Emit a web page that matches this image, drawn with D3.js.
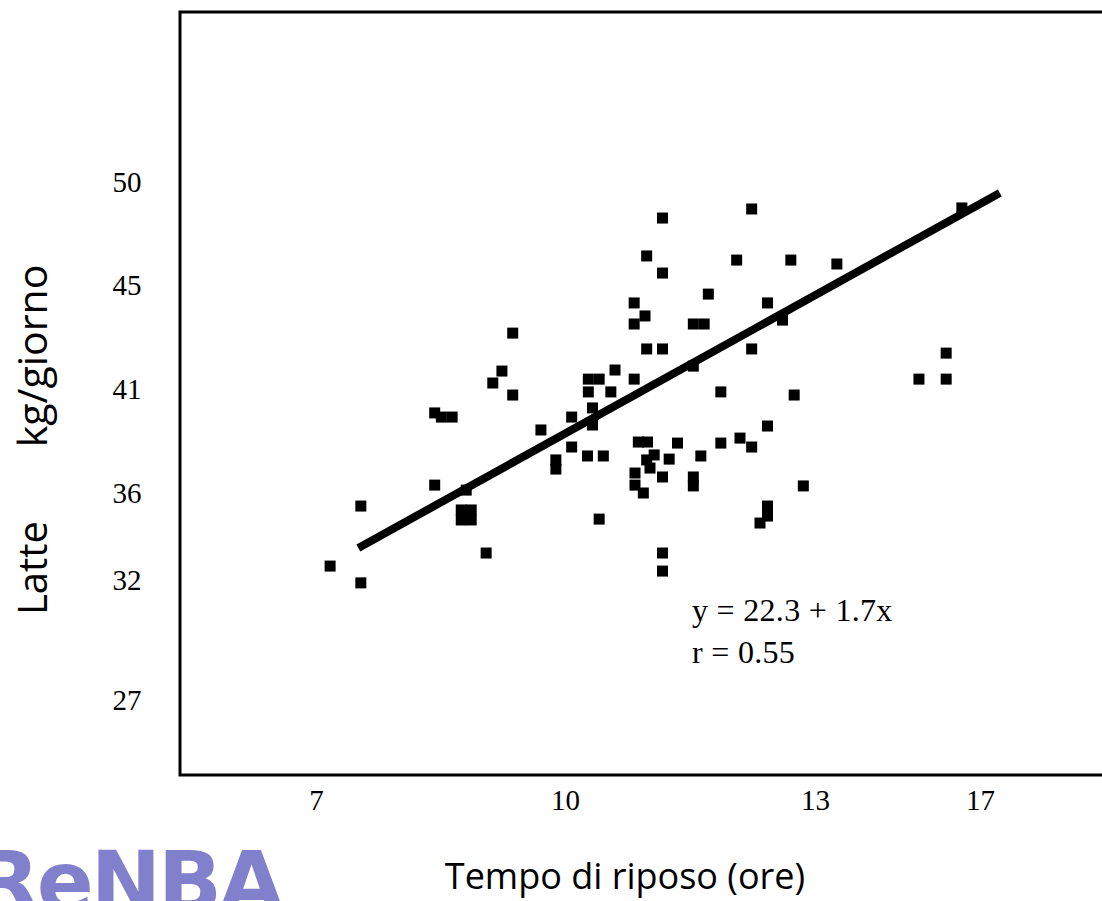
<!DOCTYPE html>
<html>
<head>
<meta charset="utf-8">
<script src="https://cdn.jsdelivr.net/npm/d3@7"></script>
<style>
  html, body { margin: 0; padding: 0; background: #fff; }
  svg { display: block; }
</style>
</head>
<body>
<svg id="chart" width="1102" height="901"></svg>
<script>
// ---- data ----
const restHours = [7.17,7.54,7.54,8.43,8.81,8.75,8.87,8.75,8.87,9.05,8.43,8.51,8.64,9.13,9.24,9.37,9.37,9.71,9.89,9.89,
  10.08,10.08,10.27,10.46,10.41,10.28,10.41,10.60,10.83,10.28,10.55,10.33,10.33,10.83,10.96,10.83,10.98,10.98,11.17,11.17,
  11.17,10.88,10.99,11.35,11.07,10.98,11.25,11.02,11.63,11.17,10.84,10.84,10.94,11.54,11.54,11.54,11.54,11.67,11.72,11.87,
  11.87,12.06,12.10,12.24,12.24,12.24,12.43,12.43,12.43,12.43,12.34,12.61,12.71,12.75,12.86,13.53,11.17,11.17,15.52,16.18,
  16.18,16.56];
const milkKg = [32.64,31.88,35.40,36.38,36.14,35.22,35.22,34.76,34.76,33.24,39.85,39.65,39.65,41.23,41.69,43.15,40.71,39.03,37.59,37.15,
  39.65,38.21,37.78,37.78,34.80,41.38,41.38,41.73,41.38,40.86,40.86,40.09,39.27,44.31,43.81,43.50,46.41,42.54,42.54,48.25,
  45.58,38.45,38.45,38.40,37.83,37.59,37.63,37.20,37.78,36.77,36.96,36.38,36.00,36.77,36.34,41.88,43.50,43.50,44.65,40.86,
  38.40,46.21,38.64,38.21,48.69,42.54,44.31,39.22,35.40,34.94,34.62,43.65,46.21,40.71,36.34,46.02,33.24,32.41,41.38,41.38,
  42.38,48.74];
const fitX = [7.51, 17.48];
const fitY = [33.47, 49.47];
const xTicks = [7, 10, 13, 17];
const yTicks = [27, 32, 36, 41, 45, 50];
const equationLines = ["y = 22.3 + 1.7x", "r = 0.55"];

// ---- layout ----
const svg = d3.select("#chart");
const frame = { left: 180, top: 12, right: 1112, bottom: 775 };

// axis positions follow the printed (irregular) tick spacing
const x = d3.scaleLinear().domain(xTicks).range([316, 565, 815, 980]);
const y = d3.scaleLinear().domain(yTicks).range([700, 580, 493, 389, 285, 182]);

// frame
svg.append("rect")
  .attr("x", frame.left).attr("y", frame.top)
  .attr("width", frame.right - frame.left).attr("height", frame.bottom - frame.top)
  .attr("fill", "none").attr("stroke", "#000").attr("stroke-width", 3);

// y tick labels
const yAxis = svg.append("g").attr("transform", "translate(127,0)")
  .call(d3.axisLeft(y).tickValues(yTicks).tickSize(0).tickPadding(0).tickFormat(d3.format("d")));
yAxis.select(".domain").remove();
yAxis.selectAll("text")
  .attr("text-anchor", "middle").attr("x", 0)
  .style("font-family", "'Liberation Serif', 'Times New Roman', serif")
  .style("font-size", "29px").attr("fill", "#000");

// x tick labels
const xAxis = svg.append("g").attr("transform", "translate(0,789)")
  .call(d3.axisBottom(x).tickValues(xTicks).tickSize(0).tickPadding(0).tickFormat(d3.format("d")));
xAxis.select(".domain").remove();
xAxis.selectAll("text")
  .style("font-family", "'Liberation Serif', 'Times New Roman', serif")
  .style("font-size", "29px").attr("fill", "#000");

// points
const pts = restHours.map((d, i) => ({ x: d, y: milkKg[i] }));
const S = 11;
svg.append("g").selectAll("rect").data(pts).join("rect")
  .attr("x", d => x(d.x) - S / 2).attr("y", d => y(d.y) - S / 2)
  .attr("width", S).attr("height", S).attr("fill", "#000");

// regression line
svg.append("line")
  .attr("x1", x(fitX[0])).attr("y1", y(fitY[0]))
  .attr("x2", x(fitX[1])).attr("y2", y(fitY[1]))
  .attr("stroke", "#000").attr("stroke-width", 8);

// equation
svg.append("g").selectAll("text").data(equationLines).join("text")
  .attr("x", 692).attr("y", (d, i) => 621 + i * 42)
  .style("font-family", "'Liberation Serif', 'Times New Roman', serif")
  .style("font-size", "32px").style("letter-spacing", "0.3px").attr("fill", "#000")
  .text(d => d);

// axis titles
svg.append("text")
  .attr("x", 625).attr("y", 889).attr("text-anchor", "middle")
  .style("font-family", "'Open Sans', sans-serif").style("font-size", "36px").attr("fill", "#000")
  .text("Tempo di riposo (ore)");

svg.append("text")
  .attr("transform", "translate(47,568) rotate(-90)").attr("text-anchor", "middle")
  .style("font-family", "'Open Sans', sans-serif").style("font-size", "40px").attr("fill", "#000")
  .text("Latte");
svg.append("text")
  .attr("transform", "translate(47,356) rotate(-90)").attr("text-anchor", "middle")
  .style("font-family", "'Open Sans', sans-serif").style("font-size", "41px").attr("fill", "#000")
  .text("kg/giorno");

// logo
svg.append("text")
  .attr("x", -25).attr("y", 911)
  .style("font-family", "'DejaVu Sans', sans-serif").style("font-weight", "bold")
  .style("font-size", "84px").style("letter-spacing", "-3px").attr("fill", "#8080cc")
  .text("ReNBA");
</script>
</body>
</html>
